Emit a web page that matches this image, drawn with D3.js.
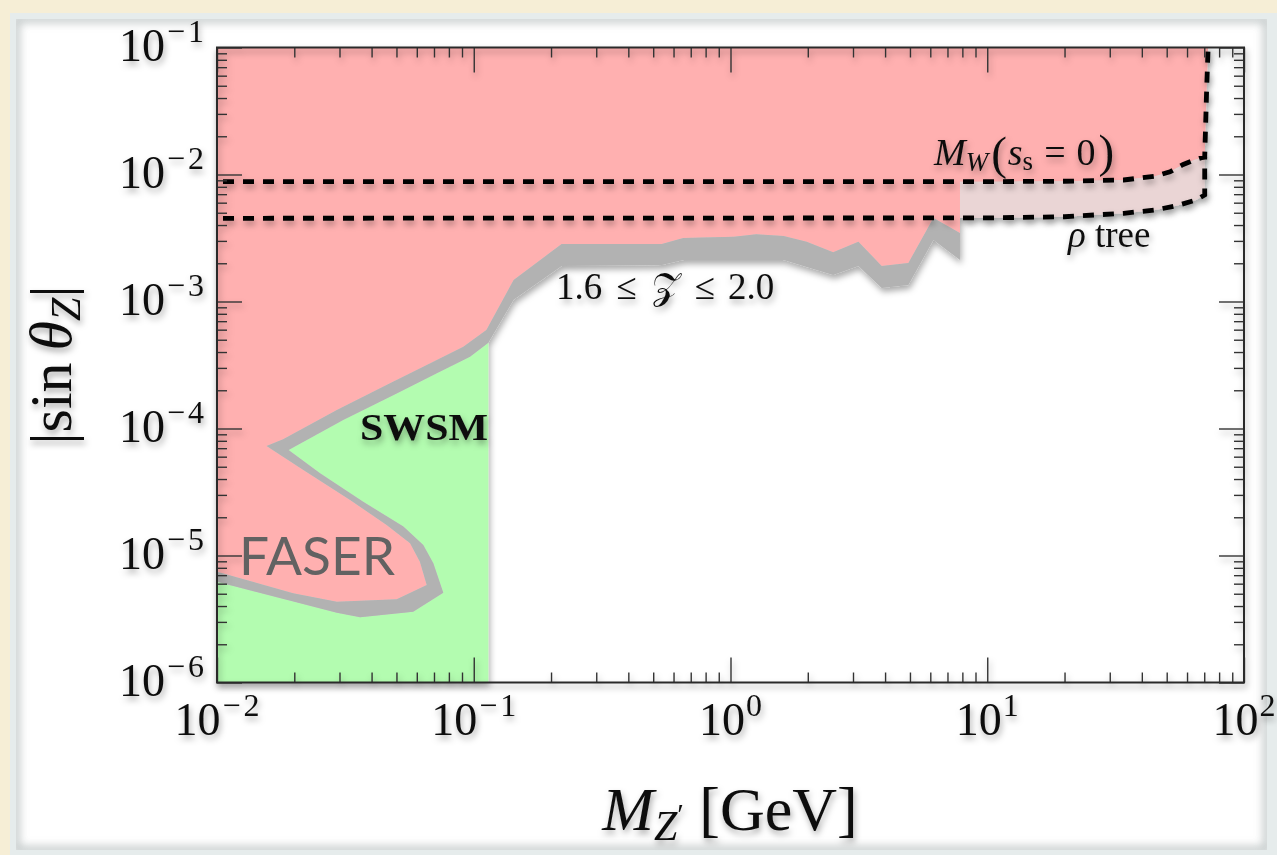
<!DOCTYPE html>
<html>
<head>
<meta charset="utf-8">
<script src="https://cdn.jsdelivr.net/npm/d3@7"></script>
<style>
  html, body { margin: 0; padding: 0; background: #f6eed6; }
  svg { display: block; }
</style>
</head>
<body>
<svg id="chart" width="1277" height="855"></svg>
<script>
// ---- data -------------------------------------------------------------
// Axis ticks (powers of ten) and their labels: [mantissa, exponent]
const xMajorTicks = [1e-2, 1e-1, 1e0, 1e1, 1e2];
const xTickLabels = [["10", "\u22122"], ["10", "\u22121"], ["10", "0"], ["10", "1"], ["10", "2"]];
const yMajorTicks = [1e-1, 1e-2, 1e-3, 1e-4, 1e-5, 1e-6];
const yTickLabels = [["10", "\u22121"], ["10", "\u22122"], ["10", "\u22123"], ["10", "\u22124"], ["10", "\u22125"], ["10", "\u22126"]];

// 1.6 <= X <= 2.0 band: edge facing the excluded region, [M_Z' GeV, |sin theta_Z|]
const bandUpperEdge = [
  [0.01, 7.46e-6], [0.0198, 5.04e-6], [0.0293, 4.33e-6], [0.0501, 4.52e-6],
  [0.0656, 5.86e-6], [0.0617, 8.94e-6], [0.0565, 1.25e-5], [0.0458, 1.74e-5],
  [0.0330, 2.74e-5], [0.0217, 4.71e-5], [0.0156, 7.28e-5], [0.0181, 8.22e-5],
  [0.0293, 1.40e-4], [0.0472, 2.27e-4], [0.0636, 3.07e-4], [0.0911, 4.41e-4],
  [0.112, 5.97e-4], [0.143, 1.48e-3], [0.220, 2.84e-3], [0.540, 2.84e-3],
  [0.655, 3.16e-3], [1.03, 3.24e-3], [1.26, 3.38e-3], [1.61, 3.28e-3],
  [1.98, 2.96e-3], [2.51, 2.44e-3], [3.15, 2.96e-3], [3.88, 1.90e-3],
  [4.93, 2.01e-3], [6.17, 4.55e-3], [7.83, 3.46e-3]
];
// same band: edge facing the allowed region
const bandLowerEdge = [
  [0.01, 6.22e-6], [0.0293, 3.54e-6], [0.0361, 3.26e-6], [0.0581, 3.61e-6],
  [0.0761, 5.10e-6], [0.0696, 8.68e-6], [0.0636, 1.21e-5], [0.0532, 1.69e-5],
  [0.0371, 2.65e-5], [0.0252, 4.44e-5], [0.0190, 6.77e-5], [0.0310, 1.167e-4],
  [0.0501, 1.89e-4], [0.0718, 2.72e-4], [0.0967, 3.68e-4], [0.114, 4.74e-4],
  [0.143, 1.03e-3], [0.220, 1.90e-3], [0.540, 1.94e-3],
  [0.655, 2.12e-3], [1.61, 2.12e-3], [2.51, 1.62e-3], [3.15, 1.90e-3],
  [3.88, 1.28e-3], [4.93, 1.35e-3], [6.17, 3.05e-3], [7.83, 2.12e-3]
];
// SWSM region reaches up to this mass
const swsmMaxMass = 0.114;

// M_W (s_s = 0) bound
const mwCurve = [
  [0.01, 8.78e-3], [10, 8.78e-3], [20, 8.85e-3], [34, 9.05e-3], [45, 9.7e-3],
  [51.5, 1.05e-2], [58, 1.2e-2], [64, 1.3e-2], [70.3, 1.38e-2],
  [70.9, 2.5e-2], [71.6, 5e-2], [72.5, 1e-1]
];
// rho parameter (tree level) bound
const rhoCurve = [
  [0.01, 4.52e-3], [10, 4.55e-3], [20, 4.65e-3], [34, 4.95e-3], [45, 5.25e-3],
  [55, 5.7e-3], [65, 6.3e-3], [70.3, 6.9e-3], [70.3, 1.38e-2]
];

// ---- setup ------------------------------------------------------------
const W = 1277, H = 855;
const svg = d3.select("#chart");
const defs = svg.append("defs");

const shadow = defs.append("filter").attr("id", "shade")
  .attr("filterUnits", "userSpaceOnUse")
  .attr("x", 0).attr("y", 0).attr("width", W).attr("height", H);
shadow.append("feDropShadow")
  .attr("dx", 1.5).attr("dy", 4).attr("stdDeviation", 3.2)
  .attr("flood-color", "#000").attr("flood-opacity", 0.33);

const soft = defs.append("filter").attr("id", "soft")
  .attr("filterUnits", "userSpaceOnUse")
  .attr("x", 0).attr("y", 0).attr("width", W).attr("height", H);
soft.append("feGaussianBlur").attr("stdDeviation", 4);

defs.append("clipPath").attr("id", "card-clip")
  .append("rect").attr("x", 16).attr("y", 19).attr("width", 1251).attr("height", 831);

// card with frame and inner shade
svg.append("rect").attr("width", W).attr("height", H).attr("fill", "#f6eed6");
svg.append("rect").attr("x", 10).attr("y", 13).attr("width", W - 10).attr("height", H - 13).attr("fill", "#e6ecec");
svg.append("rect").attr("x", 16).attr("y", 19).attr("width", 1251).attr("height", 831).attr("fill", "#fff");
svg.append("rect").attr("x", 16).attr("y", 19).attr("width", 1251).attr("height", 831)
  .attr("fill", "none").attr("stroke", "#95a0a0").attr("stroke-width", 8)
  .attr("opacity", 0.55).attr("filter", "url(#soft)").attr("clip-path", "url(#card-clip)");

const x = d3.scaleLog().domain([1e-2, 1e2]).range([217, 1244]);
const y = d3.scaleLog().domain([1e-6, 1e-1]).range([682.5, 47.5]);
const line = d3.line().x(d => x(d[0])).y(d => y(d[1]));
const poly = pts => line(pts) + "Z";

// log-log interpolation along a curve
function valueAt(curve, m) {
  for (let i = 0; i < curve.length - 1; i++) {
    const a = curve[i], b = curve[i + 1];
    if (a[0] <= m && m <= b[0] && b[0] > a[0]) {
      const t = (Math.log(m) - Math.log(a[0])) / (Math.log(b[0]) - Math.log(a[0]));
      return Math.exp(Math.log(a[1]) + t * (Math.log(b[1]) - Math.log(a[1])));
    }
  }
  return curve[curve.length - 1][1];
}

const [xMin, xMax] = x.domain();
const [yMin, yMax] = y.domain();
const edgeMass = bandUpperEdge[bandUpperEdge.length - 1][0];
const mwJoin = rhoCurve[rhoCurve.length - 1][0];

// ---- regions ----------------------------------------------------------
const regions = svg.append("g").attr("filter", "url(#shade)");

// SWSM allowed region
const greenPts = [[xMin, yMin], ...bandLowerEdge.filter(d => d[0] <= swsmMaxMass), [swsmMaxMass, yMin]];
regions.append("path").attr("d", poly(greenPts)).attr("fill", "#b3fcb0");

// excluded region
const pinkPts = [
  ...bandUpperEdge,
  [edgeMass, valueAt(mwCurve, edgeMass)],
  ...mwCurve.filter(d => d[0] > edgeMass),
  [xMin, yMax]
];
regions.append("path").attr("d", poly(pinkPts)).attr("fill", "#ffb0b0");

// strip between the rho and M_W bounds
const stripPts = [
  [edgeMass, valueAt(mwCurve, edgeMass)],
  ...mwCurve.filter(d => d[0] > edgeMass && d[0] <= mwJoin),
  ...rhoCurve.filter(d => d[0] > edgeMass).reverse(),
  [edgeMass, valueAt(rhoCurve, edgeMass)]
];
regions.append("path").attr("d", poly(stripPts)).attr("fill", "#ead5d5");

// 1.6 <= X <= 2.0 band
const bandPts = [...bandUpperEdge, ...bandLowerEdge.slice().reverse()];
regions.append("path").attr("d", poly(bandPts)).attr("fill", "#b2b2b2");

// ---- dashed bounds ----------------------------------------------------
const bounds = svg.append("g").attr("filter", "url(#shade)");
[mwCurve, rhoCurve].forEach(c => {
  bounds.append("path").attr("d", line(c))
    .attr("fill", "none").attr("stroke", "#000").attr("stroke-width", 4.8)
    .attr("stroke-dasharray", "11,9").attr("stroke-dashoffset", 14);
});

// ---- axes -------------------------------------------------------------
const frame = svg.append("g").attr("filter", "url(#shade)");
const xMinor = x.ticks().filter(v => !xMajorTicks.some(t => Math.abs(t - v) / t < 1e-9));
const yMinor = y.ticks().filter(v => !yMajorTicks.some(t => Math.abs(t - v) / t < 1e-9));

function drawAxis(axisFn, scale, values, size, transform) {
  const g = frame.append("g").attr("transform", transform)
    .call(axisFn(scale).tickValues(values).tickSize(-size).tickSizeOuter(0).tickFormat(""));
  g.select(".domain").remove();
  g.selectAll("line").attr("stroke", "#333").attr("stroke-width", 1.4);
}
drawAxis(d3.axisBottom, x, xMajorTicks, 25, `translate(0,${y(yMin)})`);
drawAxis(d3.axisBottom, x, xMinor, 10, `translate(0,${y(yMin)})`);
drawAxis(d3.axisTop, x, xMajorTicks, 25, `translate(0,${y(yMax)})`);
drawAxis(d3.axisTop, x, xMinor, 10, `translate(0,${y(yMax)})`);
drawAxis(d3.axisLeft, y, yMajorTicks, 25, `translate(${x(xMin)},0)`);
drawAxis(d3.axisLeft, y, yMinor, 10, `translate(${x(xMin)},0)`);
drawAxis(d3.axisRight, y, yMajorTicks, 25, `translate(${x(xMax)},0)`);
drawAxis(d3.axisRight, y, yMinor, 10, `translate(${x(xMax)},0)`);

frame.append("rect")
  .attr("x", x(xMin)).attr("y", y(yMax))
  .attr("width", x(xMax) - x(xMin)).attr("height", y(yMin) - y(yMax))
  .attr("fill", "none").attr("stroke", "#2b2b2b").attr("stroke-width", 2);

// ---- text -------------------------------------------------------------
const serif = "'Liberation Serif', 'DejaVu Serif', serif";
const labels = svg.append("g").attr("font-family", serif).attr("fill", "#111").attr("filter", "url(#shade)");

// "10" with a raised exponent; a leading minus gets extra room
function powerLabel(t, [base, exp]) {
  t.append("tspan").attr("font-size", 46).text(base);
  if (exp.startsWith("\u2212")) {
    t.append("tspan").attr("font-size", 32).attr("dy", -19).attr("dx", 2).text("\u2212");
    t.append("tspan").attr("font-size", 32).attr("dx", 3).text(exp.slice(1));
  } else {
    t.append("tspan").attr("font-size", 32).attr("dy", -19).attr("dx", 1).text(exp);
  }
}
yMajorTicks.forEach((v, i) => {
  const t = labels.append("text").attr("x", 204).attr("y", y(v) + 13).attr("text-anchor", "end");
  powerLabel(t, yTickLabels[i]);
});
xMajorTicks.forEach((v, i) => {
  const t = labels.append("text").attr("x", x(v)).attr("y", 735).attr("text-anchor", "middle");
  powerLabel(t, xTickLabels[i]);
});

// x title: M_Z' [GeV]
const xt = labels.append("text").attr("x", 730).attr("y", 830).attr("text-anchor", "middle").attr("font-size", 62);
xt.append("tspan").attr("font-style", "italic").text("M");
xt.append("tspan").attr("font-style", "italic").attr("font-size", 42).attr("dy", 10).text("Z");
xt.append("tspan").attr("font-size", 30).attr("dy", -16).text("\u2032");
xt.append("tspan").attr("dy", 6).text(" [GeV]");

// y title: |sin theta_Z|
const yt = labels.append("text").attr("transform", "translate(71,365) rotate(-90)")
  .attr("text-anchor", "middle").attr("font-size", 60);
yt.append("tspan").text("|sin\u2009");
yt.append("tspan").attr("font-style", "italic").text("\u03b8");
yt.append("tspan").attr("font-style", "italic").attr("font-size", 42).attr("dy", 9).text("Z");
yt.append("tspan").attr("dy", -9).text("|");

// M_W (s_s = 0)
const mw = labels.append("text").attr("x", 934).attr("y", 165).attr("font-size", 38);
mw.append("tspan").attr("font-style", "italic").text("M");
mw.append("tspan").attr("font-style", "italic").attr("font-size", 27).attr("dy", 6).text("W");
mw.append("tspan").attr("font-size", 47).attr("dy", -2).attr("dx", 3).text("(");
mw.append("tspan").attr("font-style", "italic").attr("dy", -4).attr("dx", 1).text("s");
mw.append("tspan").attr("font-size", 27).attr("dy", 5).text("s");
mw.append("tspan").attr("dy", -5).attr("dx", 11).text("=");
mw.append("tspan").attr("dx", 11).text("0");
mw.append("tspan").attr("font-size", 47).attr("dy", 2).attr("dx", 3).text(")");

// rho tree
const rt = labels.append("text").attr("x", 1068).attr("y", 247).attr("font-size", 37);
rt.append("tspan").attr("font-style", "italic").text("\u03c1");
rt.append("tspan").text(" tree");

// band label
const bl = labels.append("text").attr("x", 556).attr("y", 299).attr("font-size", 37);
bl.append("tspan").text("1.6");
bl.append("tspan").attr("dx", 14).text("\u2264");
bl.append("tspan").attr("dx", 15).text("\ud835\udcb5");
bl.append("tspan").attr("dx", 15).text("\u2264");
bl.append("tspan").attr("dx", 13).text("2.0");

// SWSM
labels.append("text").attr("x", 360).attr("y", 440).attr("font-size", 37).attr("font-weight", "bold")
  .attr("textLength", 128).attr("lengthAdjust", "spacingAndGlyphs").text("SWSM");

// FASER
svg.append("text").attr("x", 239).attr("y", 575)
  .attr("font-family", "Lato, 'Open Sans', sans-serif").attr("font-size", 53)
  .attr("fill", "#626262").attr("textLength", 156).attr("lengthAdjust", "spacingAndGlyphs")
  .text("FASER");
</script>
</body>
</html>
